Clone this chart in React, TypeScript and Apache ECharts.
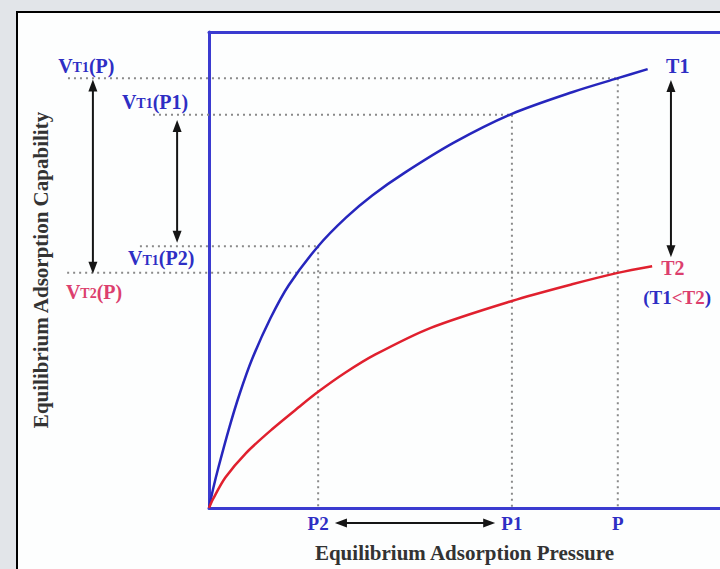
import React, { useEffect, useRef } from 'react';
import * as echarts from 'echarts';

// Isotherm T1 (lower temperature) – pressure / capability readings
const t1PressureX = [0, 0.1, 0.23, 0.5, 0.75, 1.05, 1.5, 1.95, 2.67, 3.35, 4.0, 4.8, 6.0, 7.41, 8.9, 10, 10.73];
const t1CapacityY = [0, 0.4, 0.85, 1.7, 2.4, 3.12, 3.98, 4.68, 5.5, 6.1, 6.57, 7.05, 7.68, 8.28, 8.74, 9.03, 9.22];
// Isotherm T2 (higher temperature)
const t2PressureX = [0, 0.1, 0.4, 0.9, 1.55, 2.2, 2.67, 3.33, 4.06, 5.41, 7.41, 8.88, 10, 10.84];
const t2CapacityY = [0, 0.19, 0.64, 1.15, 1.66, 2.12, 2.44, 2.84, 3.22, 3.78, 4.35, 4.7, 4.94, 5.08];

// Pressure ticks
const pressureTickValues = [2.67, 7.41, 10];
const pressureTickLabels = ['P2', 'P1', 'P'];

// Capability levels
const levelVT1P = 9.03;
const levelVT1P1 = 8.26;
const levelVT1P2 = 5.5;
const levelVT2P = 4.94;

const BLUE = '#2e2ec4';
const PINK = '#dc3f6e';
const FONT = "'Liberation Serif', 'Times New Roman', serif";

export default function App() {
  const ref = useRef<HTMLDivElement>(null);

  useEffect(() => {
    if (!ref.current) return;
    const chart = echarts.init(ref.current, undefined, { renderer: 'svg' });

    const hLines = [
      [-3.45, pressureTickValues[2], levelVT1P],
      [-1.37, pressureTickValues[1], levelVT1P1],
      [-1.69, pressureTickValues[0], levelVT1P2],
      [-3.47, pressureTickValues[2], levelVT2P],
    ];
    const vLines = [
      [pressureTickValues[0], levelVT1P2],
      [pressureTickValues[1], levelVT1P1],
      [pressureTickValues[2], levelVT1P],
    ];
    // [x0, y0, x1, y1]
    const arrows = [
      [-2.84, levelVT2P - 0.02, -2.84, levelVT1P - 0.03],
      [-0.78, levelVT1P2 + 0.07, -0.78, levelVT1P1 - 0.11],
      [11.3, 5.27, 11.3, levelVT1P - 0.04],
      [3.08, -0.315, 7.0, -0.315],
    ];

    const rich = (color: string) => ({
      a: { fontSize: 20, fontWeight: 'bold', fontFamily: FONT, fill: color, color },
      b: { fontSize: 14, fontWeight: 'bold', fontFamily: FONT, fill: color, color, padding: [4, 0, 0, 0] },
    });
    const texts: any[] = [
      { x: -3.69, y: 9.29, text: '{a|V}{b|T1}{a|(P)}', color: BLUE },
      { x: -2.13, y: 8.53, text: '{a|V}{b|T1}{a|(P1)}', color: BLUE },
      { x: -1.98, y: 5.25, text: '{a|V}{b|T1}{a|(P2)}', color: BLUE },
      { x: -3.5, y: 4.54, text: '{a|V}{b|T2}{a|(P)}', color: PINK },
      { x: 11.18, y: 9.29, text: '{a|T1}', color: BLUE },
      { x: 11.06, y: 5.04, text: '{a|T2}', color: PINK },
    ];

    const annotation = (params: any, api: any) => {
      const c = (x: number, y: number) => api.coord([x, y]);
      const children: any[] = [];
      const dot = { stroke: '#8a8a8a', lineWidth: 2, lineDash: [2, 4], fill: 'none' };
      hLines.forEach(([x0, x1, y]) => {
        const a = c(x0, y), b = c(x1, y);
        children.push({ type: 'line', shape: { x1: a[0], y1: a[1], x2: b[0], y2: b[1] }, style: dot });
      });
      vLines.forEach(([x, y]) => {
        const a = c(x, y), b = c(x, 0);
        children.push({ type: 'line', shape: { x1: a[0], y1: a[1], x2: b[0], y2: b[1] }, style: dot });
      });
      arrows.forEach(([x0, y0, x1, y1]) => {
        const a = c(x0, y0), b = c(x1, y1);
        const dx = b[0] - a[0], dy = b[1] - a[1];
        const len = Math.sqrt(dx * dx + dy * dy);
        const ux = dx / len, uy = dy / len;
        const hl = 12, hw = 4.5;
        children.push({
          type: 'line',
          shape: { x1: a[0] + ux * hl * 0.8, y1: a[1] + uy * hl * 0.8, x2: b[0] - ux * hl * 0.8, y2: b[1] - uy * hl * 0.8 },
          style: { stroke: '#151515', lineWidth: 2 },
        });
        const head = (tip: number[], sx: number, sy: number) => ({
          type: 'polygon',
          shape: {
            points: [
              [tip[0], tip[1]],
              [tip[0] - sx * hl - sy * hw, tip[1] - sy * hl + sx * hw],
              [tip[0] - sx * hl + sy * hw, tip[1] - sy * hl - sx * hw],
            ],
          },
          style: { fill: '#151515' },
        });
        children.push(head(b, ux, uy));
        children.push(head(a, -ux, -uy));
      });
      texts.forEach((t) => {
        const p = c(t.x, t.y);
        children.push({
          type: 'text',
          x: p[0],
          y: p[1],
          style: {
            text: t.text,
            rich: rich(t.color),
            fill: t.color,
            align: 'left',
            verticalAlign: 'middle',
          },
        });
      });
      const q = c(10.62, 4.43);
      children.push({
        type: 'text',
        x: q[0],
        y: q[1],
        style: {
          text: '{a|(T1}{p|<T2}{a|)}',
          rich: {
            a: { fontSize: 19, fontWeight: 'bold', fontFamily: FONT, fill: BLUE, color: BLUE },
            p: { fontSize: 19, fontWeight: 'bold', fontFamily: FONT, fill: PINK, color: PINK },
          },
          align: 'left',
          verticalAlign: 'middle',
        },
      });
      return { type: 'group', children };
    };

    chart.setOption({
      animation: false,
      backgroundColor: 'transparent',
      grid: { left: 209, top: 32, right: 0, bottom: 61, containLabel: false, outerBoundsMode: 'none' },
      xAxis: [
        {
          type: 'value',
          min: 0,
          max: 12.5,
          position: 'bottom',
          axisLine: { show: true, lineStyle: { color: '#3b3bd0', width: 3 } },
          axisTick: { show: false },
          splitLine: { show: false },
          axisLabel: {
            customValues: pressureTickValues,
            formatter: (v: number) => {
              const i = pressureTickValues.findIndex((p) => Math.abs(p - v) < 1e-6);
              return i >= 0 ? pressureTickLabels[i] : '';
            },
            color: BLUE,
            fontSize: 19,
            fontWeight: 'bold',
            fontFamily: FONT,
            margin: 6,
          },
          name: 'Equilibrium Adsorption Pressure',
          nameLocation: 'middle',
          nameGap: 34,
          nameTextStyle: { color: '#333', fontSize: 21, fontWeight: 'bold', fontFamily: FONT },
        },
        {
          type: 'value',
          min: 0,
          max: 12.5,
          position: 'top',
          axisLine: { show: true, lineStyle: { color: '#3b3bd0', width: 3 } },
          axisTick: { show: false },
          axisLabel: { show: false },
          splitLine: { show: false },
        },
      ],
      yAxis: {
        type: 'value',
        min: 0,
        max: 10,
        axisLine: { show: true, lineStyle: { color: '#3b3bd0', width: 3 } },
        axisTick: { show: false },
        axisLabel: { show: false },
        splitLine: { show: false },
        name: 'Equilibrium Adsorption Capability',
        nameLocation: 'middle',
        nameRotate: 90,
        nameGap: 158,
        nameTextStyle: { color: '#333', fontSize: 21, fontWeight: 'bold', fontFamily: FONT },
      },
      series: [
        {
          type: 'custom',
          name: 'annotations',
          xAxisIndex: 0,
          yAxisIndex: 0,
          clip: false,
          silent: true,
          data: [[0, 0]],
          renderItem: annotation,
          z: 1,
        },
        {
          type: 'line',
          name: 'T1',
          xAxisIndex: 0,
          data: t1PressureX.map((x, i) => [x, t1CapacityY[i]]),
          smooth: 0.3,
          symbol: 'none',
          clip: false,
          lineStyle: { color: '#2626bd', width: 2.5 },
          z: 3,
        },
        {
          type: 'line',
          name: 'T2',
          xAxisIndex: 0,
          data: t2PressureX.map((x, i) => [x, t2CapacityY[i]]),
          smooth: 0.3,
          symbol: 'none',
          clip: false,
          lineStyle: { color: '#e0202e', width: 2.5 },
          z: 3,
        },
      ],
    });

    return () => chart.dispose();
  }, []);

  return (
    <div style={{ position: 'fixed', left: 0, top: 0, width: 720, height: 569, background: '#e2e5e9', overflow: 'hidden' }}>
      <div
        style={{
          position: 'absolute',
          left: 16,
          top: 11,
          width: 740,
          height: 620,
          border: '2px solid #000',
          background: '#fdfefe',
        }}
      />
      <div ref={ref} style={{ position: 'absolute', left: 0, top: 0, width: 720, height: 569 }} />
    </div>
  );
}
